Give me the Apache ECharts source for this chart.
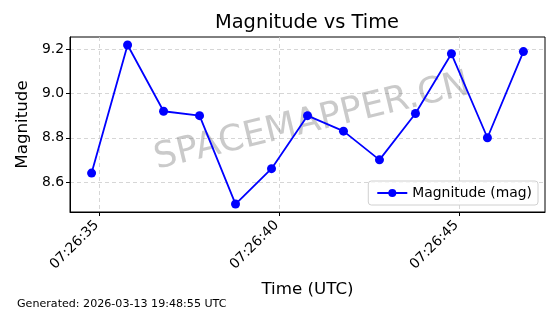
<!DOCTYPE html>
<html>
<head>
<meta charset="utf-8">
<script src="https://cdn.jsdelivr.net/npm/echarts@6/dist/echarts.min.js"></script>
<style>html,body{margin:0;padding:0;background:#fff}#c{width:560px;height:314px}</style>
</head>
<body>
<div id="c"></div>
<script>
// Data
var times = ["07:26:34.78","07:26:35.78","07:26:36.78","07:26:37.78","07:26:38.78","07:26:39.78","07:26:40.78","07:26:41.78","07:26:42.78","07:26:43.78","07:26:44.78","07:26:45.78","07:26:46.78"];
var magnitudes = [8.64, 9.22, 8.92, 8.90, 8.50, 8.66, 8.90, 8.83, 8.70, 8.91, 9.18, 8.80, 9.19];
var xTickLabels = ["07:26:35","07:26:40","07:26:45"];
var yTickValues = [8.6, 8.8, 9.0, 9.2];
var seriesName = "Magnitude (mag)";
var footerText = "Generated: 2026-03-13 19:48:55 UTC";
var watermark = "SPACEMAPPER.CN";

function toSec(t){var p=t.split(":");return (+p[0])*3600+(+p[1])*60+parseFloat(p[2]);}
function fmt(v){v=Math.round(v);var h=Math.floor(v/3600),m=Math.floor((v%3600)/60),s=v%60;
  function z(n){return (n<10?"0":"")+n;}return z(h)+":"+z(m)+":"+z(s);}
var xs = times.map(toSec);
var xTicks = xTickLabels.map(toSec);
var xMin = xs[0], xMax = xs[xs.length-1];
var xPad = (xMax-xMin)*0.05;
var yMinD = Math.min.apply(null,magnitudes), yMaxD = Math.max.apply(null,magnitudes);
var yPad = (yMaxD-yMinD)*0.05;

var font = "DejaVu Sans";
var chart = echarts.init(document.getElementById('c'), null, {renderer:'canvas'});
chart.setOption({
  animation:false,
  textStyle:{fontFamily:font},
  title:{text:"Magnitude vs Time", left:307, top:13, textAlign:'center', padding:0,
    textStyle:{fontFamily:font, fontSize:19.4, fontWeight:'normal', color:'#000'}},
  grid:{left:70, right:15, top:37, bottom:102, show:true, borderColor:'#000', borderWidth:1, backgroundColor:'transparent'},
  legend:{right:22, bottom:109, orient:'vertical', padding:[5,6,5,8], borderColor:'#d0d0d0', borderWidth:1, borderRadius:3,
    backgroundColor:'rgba(255,255,255,0.8)', itemWidth:30, itemHeight:10, itemGap:6,
    textStyle:{fontFamily:font, fontSize:13.9, color:'#000'}, data:[seriesName]},
  xAxis:{type:'value', min:xMin-xPad, max:xMax+xPad,
    name:"Time (UTC)", nameLocation:'middle', nameGap:69,
    nameTextStyle:{fontFamily:font, fontSize:16.7, color:'#000'},
    axisLine:{show:true, onZero:false, lineStyle:{color:'#000'}},
    axisTick:{show:true, length:4, customValues:xTicks, lineStyle:{color:'#000'}},
    axisLabel:{customValues:xTicks, rotate:45, margin:8, padding:[0,4,0,0], fontFamily:font, fontSize:13.9, color:'#000', formatter:function(v){return fmt(v);}},
    splitLine:{show:true, lineStyle:{color:'#cccccc', type:[4,3], width:0.8}}},
  yAxis:{type:'value', min:yMinD-yPad, max:yMaxD+yPad,
    name:"Magnitude", nameLocation:'middle', nameGap:38,
    nameTextStyle:{fontFamily:font, fontSize:16.7, color:'#000'},
    axisLine:{show:true, lineStyle:{color:'#000'}},
    axisTick:{show:true, length:4, customValues:yTickValues, lineStyle:{color:'#000'}},
    axisLabel:{customValues:yTickValues, margin:6, fontFamily:font, fontSize:13.9, color:'#000', formatter:function(v){return v.toFixed(1);}},
    splitLine:{show:true, lineStyle:{color:'#cccccc', type:[4,3], width:0.8}}},
  graphic:[
    {type:'text', left:17, top:299, style:{text:footerText, fontFamily:font, fontSize:11.1, fill:'#000'}},
    {type:'text', x:312, y:122, rotation:13.5*Math.PI/180, z:1,
      style:{text:watermark, fontFamily:font, fontSize:36, fill:'rgba(128,128,128,0.42)', align:'center', verticalAlign:'middle'}}
  ],
  series:[{name:seriesName, type:'line', data:xs.map(function(x,i){return [x,magnitudes[i]];}),
    symbol:'circle', symbolSize:9, showSymbol:true, z:3,
    lineStyle:{color:'#0000ff', width:1.8}, itemStyle:{color:'#0000ff'}}]
});
</script>
</body>
</html>
